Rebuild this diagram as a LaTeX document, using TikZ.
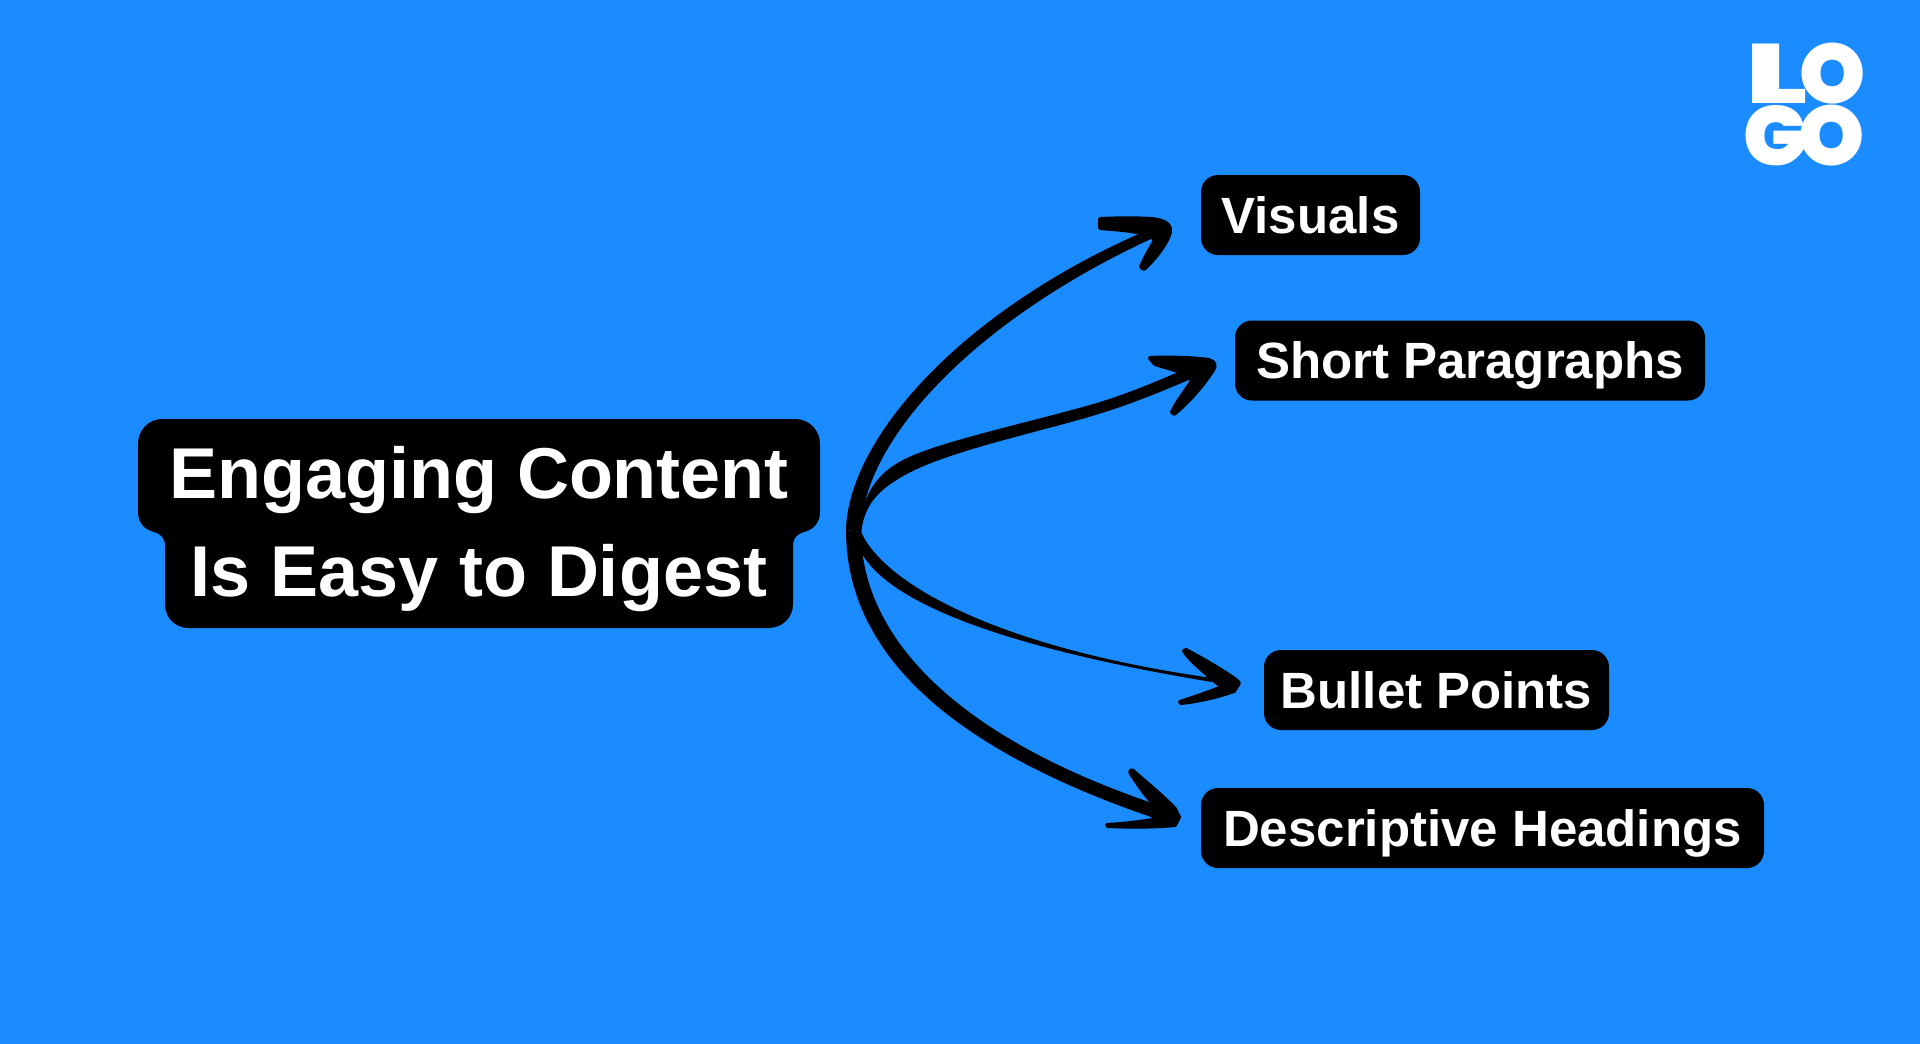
\documentclass[tikz,border=0pt]{standalone}
\usepackage{fontspec}
\setmainfont{Liberation Sans}
\newfontfamily\logofont{Poppins Black}
\definecolor{bgblue}{RGB}{26,140,255}
\tikzset{
  lab/.style={fill=black,text=white,rounded corners=17pt,inner sep=0pt,text height=36pt,text depth=0pt,font=\bfseries\fontsize{51}{60}\selectfont},
  ink/.style={fill=black,draw=black,line width=4pt,line join=round},
  logot/.style={text=white,inner sep=0pt,font=\logofont\fontsize{84}{84}\selectfont}
}
\begin{document}
\begin{tikzpicture}[x=1pt,y=-1pt]
\useasboundingbox (0,0) rectangle (1920,1044);
\fill[bgblue] (0,0) rectangle (1920,1044);

% main box
\fill[black] (162,419) -- (795,419) .. controls (809,419) and (820,430) .. (820,444) -- (820,512)
  .. controls (820,524) and (812,530) .. (804,532) .. controls (797,534) and (793,538) .. (793,546)
  -- (793,604) .. controls (793,618) and (782,628) .. (768,628) -- (189,628)
  .. controls (175,628) and (165,618) .. (165,604) -- (165,546)
  .. controls (165,538) and (161,534) .. (154,532) .. controls (146,530) and (138,524) .. (138,512)
  -- (138,444) .. controls (138,430) and (149,419) .. (162,419) -- cycle;
\node[text=white,inner sep=0pt,align=center,font=\bfseries\fontsize{72}{98}\selectfont] (main) at (479,529) {Engaging Content\\Is Easy to Digest};

% labels
\node[lab,minimum width=219pt,minimum height=80pt] (vis) at (1310.5,215) {Visuals};
\node[lab,minimum width=470pt,minimum height=80pt] (par) at (1470,360.5) {Short Paragraphs};
\node[lab,minimum width=345pt,minimum height=80pt] (bul) at (1436.5,690) {Bullet Points};
\node[lab,minimum width=563pt,minimum height=80pt] (des) at (1482.5,828) {Descriptive Headings};

% connector ends
\coordinate (hub) at (846,530);
\coordinate (hubin) at (861,532);
\coordinate (tipV) at (1150,229);
\coordinate (tipP) at (1205,360);
\coordinate (tipB) at (1212,678);
\coordinate (tipD) at (1155,804);

% connectors (tapered strokes)
\fill[black] (hub) .. controls (848,440) and (960,310) .. (tipV) -- (1153,238)
  .. controls (975,320) and (862,440) .. (hubin) -- cycle;
\fill[black] (hub) .. controls (846,650) and (945,748) .. (1160,820) -- (tipD)
  .. controls (960,738) and (862,640) .. (hubin) -- cycle;
\fill[black] (hubin) .. controls (860,505) and (870,476) .. (905,459)
  .. controls (940,441) and (1040,420) .. (1100,402)
  .. controls (1135,391) and (1170,376) .. (tipP) -- (1207,372)
  .. controls (1175,386) and (1140,401) .. (1102,413)
  .. controls (1045,431) and (950,450) .. (905,475)
  .. controls (880,489) and (861,505) .. (861,540) -- cycle;
\fill[black] (hubin) .. controls (885,585) and (1000,648) .. (tipB) -- (1212,682)
  .. controls (1000,647) and (878,600) .. (858,545) -- cycle;

% arrow heads
\filldraw[ink] (1100,219) .. controls (1120,218) and (1150,218) .. (1158,220)
  .. controls (1167,222) and (1171,226) .. (1170,232)
  .. controls (1168,242) and (1155,259) .. (1144,269) -- (1141,267)
  .. controls (1146,255) and (1152,246) .. (1155,240)
  .. controls (1150,232) and (1125,230) .. (1100,228) -- cycle;
\filldraw[ink] (1150,358) .. controls (1170,357) and (1195,358) .. (1209,360)
  .. controls (1215,362) and (1216,366) .. (1213,370)
  .. controls (1200,390) and (1185,405) .. (1174,414) -- (1172,412)
  .. controls (1178,400) and (1186,390) .. (1192,381)
  .. controls (1188,372) and (1170,369) .. (1155,364) -- cycle;
\filldraw[ink] (1184,651) -- (1186,650) .. controls (1205,660) and (1225,672) .. (1236,680)
  -- (1239,683) -- (1234,691)
  .. controls (1220,696) and (1200,701) .. (1181,703) -- (1180,702)
  .. controls (1195,697) and (1210,692) .. (1222,687)
  -- (1210,677) .. controls (1200,668) and (1190,660) .. (1184,651) -- cycle;
\filldraw[ink] (1130,772) -- (1132,770) .. controls (1150,786) and (1165,798) .. (1175,809)
  -- (1179,817) -- (1175,825)
  .. controls (1155,827) and (1130,827) .. (1108,826) -- (1107,825)
  .. controls (1125,824) and (1140,822) .. (1153,820)
  -- (1153,803) .. controls (1145,795) and (1137,783) .. (1130,772) -- cycle;

% logo
\node[logot,anchor=center] (logoa) at (1806,74) {\scalebox{1.45}[1]{L}\kern-8pt O};
\node[logot,anchor=center] (logob) at (1804,136) {G\kern-9pt O};
\fill[bgblue] (1805,97) -- (1817,105) -- (1806,109) -- cycle;
\end{tikzpicture}
\end{document}
